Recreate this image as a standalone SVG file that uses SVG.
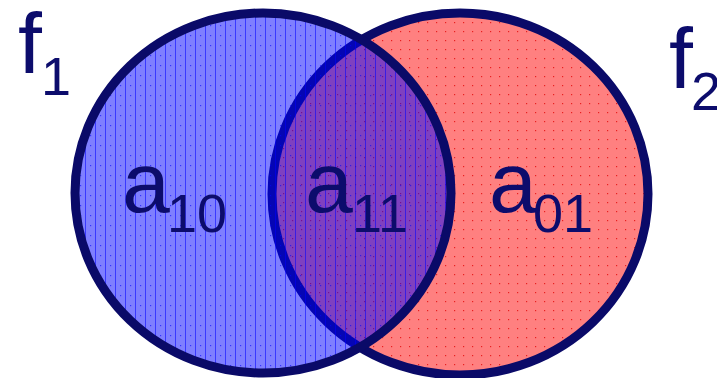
<svg xmlns="http://www.w3.org/2000/svg" width="717" height="378" viewBox="0 0 717 378">
<style>
.ring{stroke:#0a0a68;stroke-width:9}
.lbl{font-family:"Liberation Sans",Arial,sans-serif;fill:#0c0c6c}
.big{font-size:86px}
.sub{font-size:54px}
</style>
<defs>
<pattern id="redDots" width="9" height="9" patternUnits="userSpaceOnUse">
<rect width="9" height="9" fill="#ff8080"/>
<rect x="4" y="4" width="1.2" height="1.2" fill="#e82020"/>
</pattern>
<pattern id="blueLines" width="10" height="10" patternUnits="userSpaceOnUse">
<rect width="10" height="10" fill="#0000ff" fill-opacity="0.5"/>
<rect x="5" y="0" width="1" height="10" fill="#0000ff" fill-opacity="0.55"/>
<rect x="0" y="5" width="1.2" height="1.2" fill="#0000ff" fill-opacity="0.6"/>
</pattern>
</defs>
<rect width="717" height="378" fill="#ffffff"/>
<g id="f2set">
<ellipse cx="460" cy="194" rx="188" ry="181" fill="url(#redDots)" class="ring"/>
</g>
<g id="f1set">
<ellipse cx="263" cy="193" rx="188" ry="180" fill="url(#blueLines)" stroke="none"/>
<ellipse cx="263" cy="193" rx="188" ry="180" fill="none" class="ring"/>
</g>
<g id="labels">
<g id="f1"><text class="lbl big" x="18" y="73">f</text><text class="lbl sub" x="41" y="95">1</text></g>
<g id="f2"><text class="lbl big" x="669" y="88">f</text><text class="lbl sub" x="691" y="110">2</text></g>
<g id="a10"><text class="lbl big" x="122" y="212">a</text><text class="lbl sub" x="167" y="232">10</text></g>
<g id="a11"><text class="lbl big" x="305" y="212">a</text><text class="lbl sub" x="352" y="232">11</text></g>
<g id="a01"><text class="lbl big" x="489" y="212">a</text><text class="lbl sub" x="533" y="232">01</text></g>
</g>
<g id="connectors"></g>
</svg>
